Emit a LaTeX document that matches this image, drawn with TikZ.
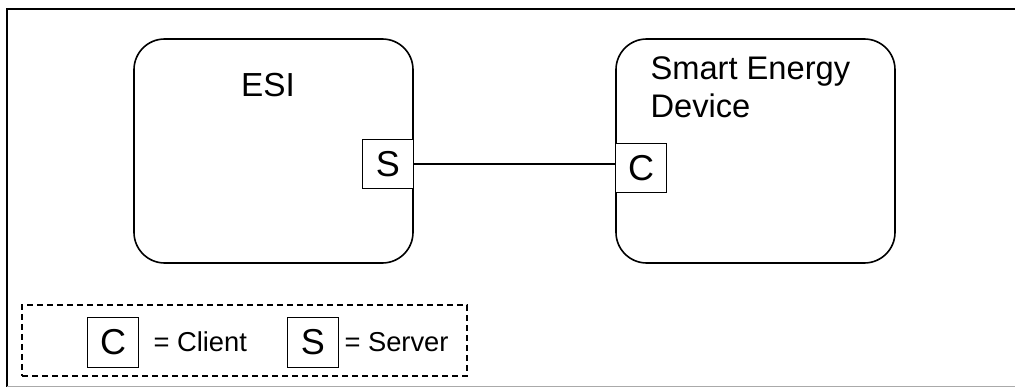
\documentclass[tikz,border=0pt]{standalone}
\usepackage{fontspec}
\setmainfont{Liberation Sans}
\tikzset{every picture/.style={line width=0.75pt}}
\tikzset{
  devbox/.style={draw, line width=1.2pt, rounded corners=23pt, minimum width=209.25pt, minimum height=168pt, inner sep=0pt},
  portbox/.style={draw, line width=0.9pt, fill=white, minimum width=38pt, minimum height=37pt, inner sep=0pt, font=\fontsize{27}{30}\selectfont},
  legendtext/.style={anchor=west, inner sep=0pt, font=\fontsize{20.5}{24}\selectfont}
}
\begin{document}
\begin{tikzpicture}[x=0.75pt,y=0.75pt,yscale=-1,xscale=1]
\useasboundingbox (0,0) rectangle (1015,388);

%Frame
\draw [line width=1pt] (7,387) -- (7,9) -- (1016,9) ;
\draw [color={rgb, 255:red, 170; green, 170; blue, 170 }, line width=1pt] (7,386.5) -- (1016,386.5) ;

%Shape: Rounded Rect [id:esi]
\node [devbox] (esi) at (273.5,151) {};
%Shape: Rounded Rect [id:sed]
\node [devbox] (sed) at (755.5,151) {};

%Ports
\node [portbox, anchor=east] (sport) at (esi.east |- 0,164) {S};
\node [portbox, anchor=west] (cport) at (sed.west |- 0,168) {C};

%Straight Lines
\draw [line width=1pt] (sport.east) -- (sport.east -| sed.west) ;

% Text Node
\node [inner sep=0pt, font=\fontsize{25}{30}\selectfont] (esilabel) at (268,85) {ESI};
% Text Node
\node [anchor=north west, inner sep=0pt, align=left, font=\fontsize{24.5}{29}\selectfont] (sedlabel) at (650,56) {Smart Energy\\Device};

%Legend
\node [draw, dash pattern={on 4.5pt off 3pt}, line width=0.9pt, minimum width=333.75pt, minimum height=53.25pt, inner sep=0pt] (legend) at (244.5,340.5) {};
\node [portbox] (legc) at (113,342.5) {C};
\node [legendtext] (legclient) at (153,342) {= Client};
\node [portbox] (legs) at (313,342.5) {S};
\node [legendtext] (legserver) at (344,342) {= Server};
\end{tikzpicture}
\end{document}
